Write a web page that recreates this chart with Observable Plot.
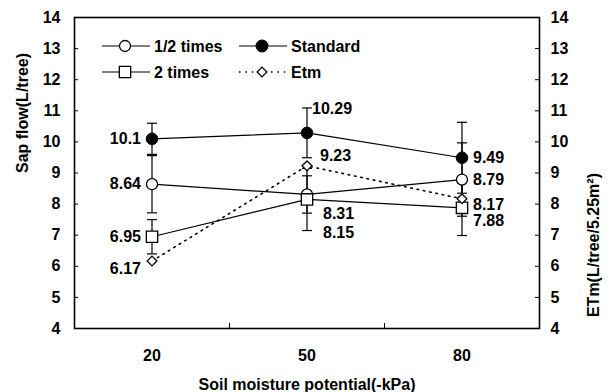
<!DOCTYPE html>
<html>
<head>
<meta charset="utf-8">
<script src="https://cdn.jsdelivr.net/npm/d3@7"></script>
<script src="https://cdn.jsdelivr.net/npm/@observablehq/plot@0.6"></script>
<style>
  body { margin: 0; background: white; }
  #chart { position: relative; width: 614px; height: 392px; }
</style>
</head>
<body>
<div id="chart"></div>
<script>
// ---- data ----
const xCats = [20, 50, 80];
const xDividers = [35, 65];
const yTicks = [4, 5, 6, 7, 8, 9, 10, 11, 12, 13, 14];
const seriesNames = ["1/2 times", "Standard", "2 times", "Etm"];
const halfTimes = [8.64, 8.31, 8.79];
const halfErr = [0.92, 0.6, 1.18];
const standard = [10.1, 10.29, 9.49];
const standardErr = [0.5, 0.8, 1.14];
const twoTimes = [6.95, 8.15, 7.88];
const twoErr = [0.55, 1.0, 0.89];
const etm = [6.17, 9.23, 8.17];
const yLabelLeft = "Sap flow(L/tree)";
const yLabelRight = "ETm(L/tree/5.25m²)";
const xLabel = "Soil moisture potential(-kPa)";

// ---- build tables ----
const rows = (vals, errs, name) => xCats.map((x, i) => ({x, y: vals[i], e: errs ? errs[i] : 0, name}));
const dHalf = rows(halfTimes, halfErr, seriesNames[0]);
const dStd = rows(standard, standardErr, seriesNames[1]);
const dTwo = rows(twoTimes, twoErr, seriesNames[2]);
const dEtm = rows(etm, null, seriesNames[3]);
const errRows = [...dStd, ...dHalf, ...dTwo];

const capSymbol = { draw(ctx) { ctx.moveTo(-5, 0); ctx.lineTo(5, 0); } };
const font = "'Liberation Sans', Arial, Helvetica, sans-serif";

function lbl(d, opts) {
  return Plot.text([d], {x: "x", y: "y", text: r => String(r.y), fontSize: 16, fontWeight: "bold", fill: "black", ...opts});
}

const FW = 614 - 74 - 75; // frame width
const FH = 392 - 17 - 64; // frame height

const plot = Plot.plot({
  width: 614,
  height: 392,
  marginLeft: 74,
  marginRight: 75,
  marginTop: 17,
  marginBottom: 64,
  x: {type: "linear", domain: [5, 95]},
  y: {domain: [4, 14]},
  style: {fontFamily: font, fontSize: "16px", fontWeight: "bold", color: "black", background: "white"},
  marks: [
    Plot.axisY({anchor: "left", ticks: yTicks, tickSize: 0, tickPadding: 14, label: null, fontSize: 16, fontWeight: "bold"}),
    Plot.axisY({anchor: "right", ticks: yTicks, tickSize: 0, tickPadding: 11, label: null, fontSize: 16, fontWeight: "bold"}),
    Plot.axisX({ticks: xCats, tickSize: 0, tickPadding: 21, label: null, fontSize: 16, fontWeight: "bold"}),
    // inward tick marks
    Plot.tickY(yTicks, {y: d => d, insetRight: FW - 4, stroke: "black", strokeWidth: 1}),
    Plot.tickY(yTicks, {y: d => d, insetLeft: FW - 4, stroke: "black", strokeWidth: 1}),
    Plot.tickX(xDividers, {x: d => d, insetTop: FH - 5, stroke: "black", strokeWidth: 1}),
    Plot.frame({stroke: "black", strokeWidth: 1.6}),
    // series lines
    Plot.line(dHalf, {x: "x", y: "y", stroke: "black", strokeWidth: 1.2}),
    Plot.line(dStd, {x: "x", y: "y", stroke: "black", strokeWidth: 1.2}),
    Plot.line(dTwo, {x: "x", y: "y", stroke: "black", strokeWidth: 1.2}),
    Plot.line(dEtm, {x: "x", y: "y", stroke: "black", strokeWidth: 1.6, strokeDasharray: "1.6,4.8"}),
    // error bars
    Plot.ruleX(errRows, {x: "x", y1: d => d.y - d.e, y2: d => d.y + d.e, stroke: "black", strokeWidth: 1.2}),
    Plot.dot(errRows, {x: "x", y: d => d.y + d.e, symbol: capSymbol, stroke: "black", strokeWidth: 1.2, fill: "none"}),
    Plot.dot(errRows, {x: "x", y: d => d.y - d.e, symbol: capSymbol, stroke: "black", strokeWidth: 1.2, fill: "none"}),
    // markers
    Plot.dot(dHalf, {x: "x", y: "y", symbol: "circle", r: 5.5, fill: "white", stroke: "black", strokeWidth: 1.3}),
    Plot.dot(dStd, {x: "x", y: "y", symbol: "circle", r: 5.8, fill: "black", stroke: "black", strokeWidth: 1}),
    Plot.dot(dTwo, {x: "x", y: "y", symbol: "square", r: 6.4, fill: "white", stroke: "black", strokeWidth: 1.3}),
    Plot.dot(dEtm, {x: "x", y: "y", symbol: "diamond2", r: 4.4, fill: "white", stroke: "black", strokeWidth: 1.3}),
    // value labels at 20
    lbl(dStd[0], {textAnchor: "end", dx: -11}),
    lbl(dHalf[0], {textAnchor: "end", dx: -11}),
    lbl(dTwo[0], {textAnchor: "end", dx: -11}),
    lbl(dEtm[0], {textAnchor: "end", dx: -11, dy: 8}),
    // value labels at 50
    lbl(dStd[1], {textAnchor: "start", dx: 5, dy: -24}),
    lbl(dEtm[1], {textAnchor: "start", dx: 13, dy: -10}),
    lbl(dHalf[1], {textAnchor: "start", dx: 16, dy: 19}),
    lbl(dTwo[1], {textAnchor: "start", dx: 16, dy: 33}),
    // value labels at 80
    lbl(dStd[2], {textAnchor: "start", dx: 11, dy: 0}),
    lbl(dHalf[2], {textAnchor: "start", dx: 11, dy: 0}),
    lbl(dEtm[2], {textAnchor: "start", dx: 11, dy: 6}),
    lbl(dTwo[2], {textAnchor: "start", dx: 11, dy: 13}),
    // axis titles
    Plot.text([yLabelLeft], {frameAnchor: "left", dx: -52, rotate: -90, text: d => d, fontSize: 16, fontWeight: "bold"}),
    Plot.text([yLabelRight], {frameAnchor: "right", dx: 54, rotate: -90, text: d => d, fontSize: 16, fontWeight: "bold"}),
    Plot.text([xLabel], {frameAnchor: "bottom", dy: 61, text: d => d, fontSize: 16, fontWeight: "bold"})
  ]
});

// ---- legend inside the frame ----
const svg = d3.select(plot);
const legendItems = [
  {name: seriesNames[0], sym: d3.symbolCircle, r: 5.5, fill: "white", dash: null, col: 0, row: 0},
  {name: seriesNames[1], sym: d3.symbolCircle, r: 5.8, fill: "black", dash: null, col: 1, row: 0},
  {name: seriesNames[2], sym: d3.symbolSquare, r: 6.4, fill: "white", dash: null, col: 0, row: 1},
  {name: seriesNames[3], sym: d3.symbolDiamond2, r: 4.4, fill: "white", dash: "1.6,4.8", col: 1, row: 1}
];
const colX = [102, 239], rowY = [46, 72];
const lg = svg.append("g").attr("text-anchor", "start");
legendItems.forEach(it => {
  const x0 = colX[it.col], y0 = rowY[it.row];
  lg.append("line").attr("x1", x0).attr("x2", x0 + 48).attr("y1", y0).attr("y2", y0)
    .attr("stroke", "black").attr("stroke-width", it.dash ? 1.6 : 1.2)
    .attr("stroke-dasharray", it.dash);
  lg.append("path").attr("d", d3.symbol(it.sym, Math.PI * it.r * it.r)())
    .attr("transform", `translate(${x0 + 23},${y0})`)
    .attr("fill", it.fill).attr("stroke", "black").attr("stroke-width", 1.3);
  lg.append("text").attr("x", x0 + 52).attr("y", y0).attr("dy", "0.35em")
    .attr("text-anchor", "start")
    .attr("font-size", 16).attr("font-weight", "bold").attr("font-family", font)
    .text(it.name);
});

document.getElementById("chart").appendChild(plot);
</script>
</body>
</html>
